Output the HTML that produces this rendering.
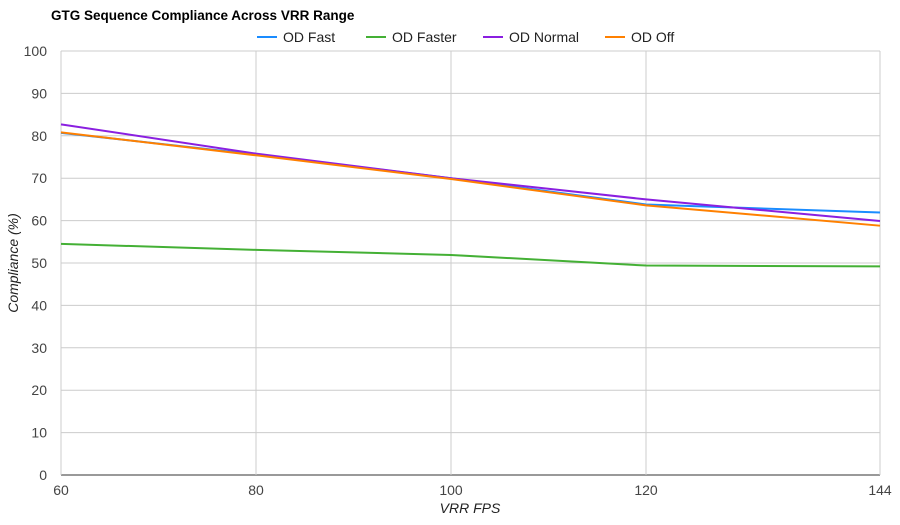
<!DOCTYPE html>
<html><head><meta charset="utf-8"><style>
body{margin:0;background:#fff;font-family:"Liberation Sans",sans-serif}
svg text{font-family:"Liberation Sans",sans-serif}
</style></head><body>
<svg id="c" width="900" height="520">
<text x="51" y="20" font-size="13.5" font-weight="bold" fill="#000">GTG Sequence Compliance Across VRR Range</text>
<g id="grid"></g><g id="legend"></g><g id="series"></g>
<text transform="translate(18,263) rotate(-90)" text-anchor="middle" font-size="14" font-style="italic" fill="#222">Compliance (%)</text>
<text x="470" y="513" text-anchor="middle" font-size="14" font-style="italic" fill="#222">VRR FPS</text>
</svg>
<script>
const xValues=[60,80,100,120,144];
const odFast=[80.7,75.6,70.0,63.8,61.9];
const odFaster=[54.5,53.1,51.9,49.4,49.2];
const odNormal=[82.7,75.8,70.0,65.0,59.9];
const odOff=[80.8,75.4,69.8,63.6,58.8];
const seriesNames=["OD Fast","OD Faster","OD Normal","OD Off"];
const seriesColors=["#1a8cff","#44b035","#8a1fe0","#ff8000"];
const yTicks=[0,10,20,30,40,50,60,70,80,90,100];
const xTicks=[60,80,100,120,144];
const allSeries=[odFast,odFaster,odNormal,odOff];
const NS="http://www.w3.org/2000/svg";
const X0=61,X1=880,Y0=475,Y1=51;
const sx=v=>X0+(v-60)/(144-60)*(X1-X0);
const sy=v=>Y0-(v/100)*(Y0-Y1);
function mk(t,a,p){const e=document.createElementNS(NS,t);for(const k in a)e.setAttribute(k,a[k]);p.appendChild(e);return e;}
const g=document.getElementById('grid');
yTicks.forEach(t=>{
 const l=mk('line',{x1:X0,x2:X1,y1:sy(t),y2:sy(t),stroke:t===0?'#333':'#ccc','stroke-width':1},g);
 
 
 const tx=mk('text',{x:47,y:sy(t)+5,'text-anchor':'end','font-size':14,fill:'#444'},g);tx.textContent=t;
 
 
});
xTicks.forEach(t=>{
 const l=mk('line',{x1:sx(t),x2:sx(t),y1:Y1,y2:Y0,stroke:'#ccc','stroke-width':1},g);
 
 
 const tx=mk('text',{x:sx(t),y:495,'text-anchor':'middle','font-size':14,fill:'#444'},g);tx.textContent=t;
 
 
});
const s=document.getElementById('series');
allSeries.forEach((d,i)=>{
 const p=mk('polyline',{points:d.map((v,j)=>sx(xValues[j])+','+sy(v)).join(' '),fill:'none',stroke:seriesColors[i],'stroke-width':2},s);
 
 
});
const lg=document.getElementById('legend');
const lx=[257,366,483,605];
seriesNames.forEach((n,i)=>{
 const grp=mk('g',{},lg);
 
 
 mk('line',{x1:lx[i],x2:lx[i]+20,y1:37,y2:37,stroke:seriesColors[i],'stroke-width':2},grp);
 const t=mk('text',{x:lx[i]+26,y:42,'font-size':14,fill:'#222'},grp);t.textContent=n;
});
</script>
</body></html>
